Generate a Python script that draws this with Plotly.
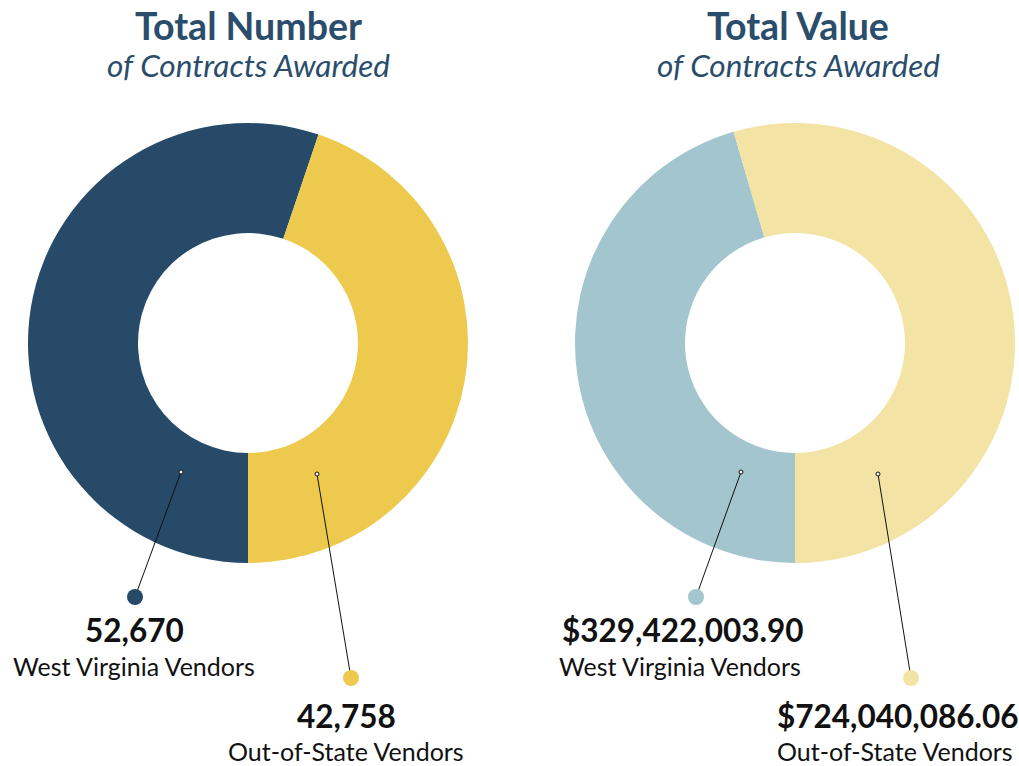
import plotly.graph_objects as go

# ---- data ----
categories = ["West Virginia Vendors", "Out-of-State Vendors"]
contract_counts = [52670, 42758]
count_labels = ["52,670", "42,758"]
value_labels = ["$329,422,003.90", "$724,040,086.06"]
# slice shares as drawn in the reference for the value donut (percent)
value_slice_shares = [45.5, 54.5]

titles = ["Total Number", "Total Value"]
subtitle = "of Contracts Awarded"

count_colors = ["#264a68", "#edc94e"]
value_colors = ["#a3c5cd", "#f3e3a4"]
title_color = "#2a4d6b"
text_color = "#111111"

W, H = 1019, 766
FONT = "Lato, 'Open Sans', sans-serif"

fig = go.Figure()

def dom(cx, cy, r):
    return dict(x=[(cx - r) / W, (cx + r) / W], y=[1 - (cy + r) / H, 1 - (cy - r) / H])

fig.add_trace(go.Pie(
    labels=categories, values=contract_counts, hole=0.5, sort=False,
    direction="clockwise", rotation=180,
    marker=dict(colors=count_colors, line=dict(width=0)),
    textinfo="none", hoverinfo="label+value", showlegend=False,
    domain=dom(248, 343, 220),
))
fig.add_trace(go.Pie(
    labels=categories, values=value_slice_shares, hole=0.5, sort=False,
    direction="clockwise", rotation=180,
    marker=dict(colors=value_colors, line=dict(width=0)),
    textinfo="none", hoverinfo="label", showlegend=False,
    domain=dom(795, 343, 220),
))

shapes = []
annotations = []

def px_line(x0, y0, x1, y1):
    shapes.append(dict(type="line", xref="x", yref="y", x0=x0, y0=y0, x1=x1, y1=y1,
                       line=dict(color="#111111", width=1)))

def px_circle(cx, cy, r, fill, outline=None):
    shapes.append(dict(type="circle", xref="x", yref="y", x0=cx - r, x1=cx + r, y0=cy - r, y1=cy + r,
                       fillcolor=fill,
                       line=dict(color=outline if outline else fill, width=1 if outline else 0)))

def text(x, y, s, size, bold=False, italic=False, color=text_color):
    if bold:
        s = "<b>" + s + "</b>"
    if italic:
        s = "<i>" + s + "</i>"
    annotations.append(dict(xref="x", yref="y", x=x, y=y, text=s, showarrow=False,
                            xanchor="center", yanchor="middle",
                            font=dict(family=FONT, size=size, color=color)))

# titles
text(248, 25, titles[0], 37.5, bold=True, color=title_color)
text(248, 65, subtitle, 31.5, italic=True, color=title_color)
text(798, 25, titles[1], 37.5, bold=True, color=title_color)
text(798, 65, subtitle, 31.5, italic=True, color=title_color)

# leader lines and labels
leaders = [
    (181, 472, 135, 597, count_colors[0]),
    (317, 474, 351, 678, count_colors[1]),
    (741, 472, 696, 597, value_colors[0]),
    (878, 474, 911, 678, value_colors[1]),
]
for x0, y0, x1, y1, c in leaders:
    px_line(x0, y0, x1, y1)
    px_circle(x0, y0, 2, "white", "#111111")
    px_circle(x1, y1, 8, c)

NUM, CAT = 31.5, 25
text(134, 630, count_labels[0], NUM, bold=True)
text(134, 666, categories[0], CAT)
text(346, 716, count_labels[1], NUM, bold=True)
text(346, 751, categories[1], CAT)
text(682, 630, value_labels[0], NUM, bold=True)
text(680, 666, categories[0], CAT)
text(897, 716, value_labels[1], NUM, bold=True)
text(895, 751, categories[1], CAT)

fig.update_layout(
    width=W, height=H, margin=dict(l=0, r=0, t=0, b=0),
    paper_bgcolor="white", plot_bgcolor="rgba(0,0,0,0)",
    xaxis=dict(range=[0, W], visible=False, fixedrange=True),
    yaxis=dict(range=[H, 0], visible=False, fixedrange=True),
    shapes=shapes, annotations=annotations,
)

fig.write_html("out.html", config={"displayModeBar": False},
               post_script="document.body.style.margin='0';document.body.style.overflow='hidden';")
